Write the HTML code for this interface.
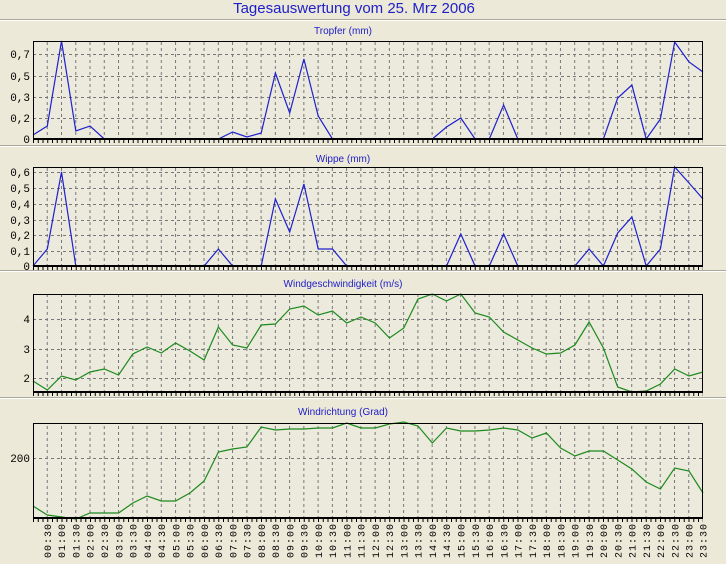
<!DOCTYPE html>
<html><head><meta charset="utf-8"><style>
html,body{margin:0;padding:0;background:#ece9d8;}
svg{display:block;}
.t{font-family:"Liberation Sans",sans-serif;fill:#2020c8;}
.y{font-family:"Liberation Mono",monospace;font-size:11px;fill:#000;}
.x{font-family:"Liberation Mono",monospace;font-size:10px;fill:#000;letter-spacing:1px;}
</style></head><body>
<svg width="726" height="564" viewBox="0 0 726 564" xmlns="http://www.w3.org/2000/svg">
<defs>
<pattern id="vp" patternUnits="userSpaceOnUse" x="32.5" y="0" width="14.2553" height="6">
<rect x="0" y="0" width="1" height="3" fill="#777"/>
</pattern>
</defs>
<rect width="726" height="564" fill="#ece9d8"/>
<text class="t" x="354" y="13" font-size="15" text-anchor="middle">Tagesauswertung vom 25. Mrz 2006</text>
<line x1="0" y1="19.5" x2="726" y2="19.5" stroke="#aca899"/><line x1="0" y1="20.5" x2="726" y2="20.5" stroke="#fff"/>
<line x1="0" y1="145.5" x2="726" y2="145.5" stroke="#aca899"/><line x1="0" y1="146.5" x2="726" y2="146.5" stroke="#fff"/>
<line x1="0" y1="270.5" x2="726" y2="270.5" stroke="#aca899"/><line x1="0" y1="271.5" x2="726" y2="271.5" stroke="#fff"/>
<line x1="0" y1="397.5" x2="726" y2="397.5" stroke="#aca899"/><line x1="0" y1="398.5" x2="726" y2="398.5" stroke="#fff"/>

<!-- Panel 1 -->
<text class="t" x="343" y="34" font-size="10" text-anchor="middle">Tropfer (mm)</text>
<rect x="33" y="41" width="670" height="98" fill="#ebeadc"/>
<rect x="34" y="41" width="668" height="98" fill="url(#vp)"/>
<path d="M33 54.5H703M33 76.5H703M33 97.5H703M33 118.5H703" stroke="#777" stroke-dasharray="3,3"/>
<path d="M33 141.5H703" stroke="#000" stroke-dasharray="1,3.75" stroke-width="3"/>
<polyline fill="none" stroke="#2020d0" stroke-width="1.2" points="33,135 47.3,126 61.5,41 75.8,131 90,126 104.3,139 118.6,139 132.8,139 147.1,139 161.3,139 175.6,139 189.9,139 204.1,139 218.4,139 232.6,132 246.9,137 261.2,133 275.4,73 289.7,113 303.9,59 318.2,116 332.5,139 346.7,139 432.3,139 446.5,127 460.8,118 475.1,139 489.3,139 503.6,105 517.8,139 603.4,139 617.7,98 631.9,85 646.2,139 660.4,119 674.7,42 689,62 703,72"/>
<rect x="33.5" y="41.5" width="669" height="97.5" fill="none" stroke="#000"/>
<line x1="33" y1="139" x2="703" y2="139" stroke="#000" stroke-width="2"/>
<g class="y" text-anchor="end">
<text x="30" y="58">0,7</text><text x="30" y="80">0,5</text><text x="30" y="101">0,3</text><text x="30" y="122">0,2</text><text x="30" y="143">0</text></g>

<!-- Panel 2 -->
<text class="t" x="343" y="162" font-size="10" text-anchor="middle">Wippe (mm)</text>
<rect x="33" y="167" width="670" height="99" fill="#ebeadc"/>
<rect x="34" y="167" width="668" height="99" fill="url(#vp)"/>
<path d="M33 172.5H703M33 188.5H703M33 204.5H703M33 220.5H703M33 235.5H703M33 251.5H703" stroke="#777" stroke-dasharray="3,3"/>
<path d="M33 268.5H703" stroke="#000" stroke-dasharray="1,3.75" stroke-width="3"/>
<polyline fill="none" stroke="#2020d0" stroke-width="1.2" points="33,266 47.3,249 61.5,172 75.8,266 90,266 189.9,266 204.1,266 218.4,249 232.6,266 261.2,266 275.4,199 289.7,232 303.9,184 318.2,249 332.5,249 346.7,266 446.5,266 460.8,234 475.1,266 489.3,266 503.6,234 517.8,266 574.9,266 589.1,249 603.4,266 617.7,233 631.9,217 646.2,266 660.4,249 674.7,167 689,183 703,199"/>
<rect x="33.5" y="167.5" width="669" height="98.5" fill="none" stroke="#000"/>
<line x1="33" y1="266" x2="703" y2="266" stroke="#000" stroke-width="2"/>
<g class="y" text-anchor="end">
<text x="30" y="176">0,6</text><text x="30" y="192">0,5</text><text x="30" y="208">0,4</text><text x="30" y="224">0,3</text><text x="30" y="239">0,2</text><text x="30" y="255">0,1</text><text x="30" y="270">0</text></g>

<!-- Panel 3 -->
<text class="t" x="343" y="287" font-size="10" text-anchor="middle">Windgeschwindigkeit (m/s)</text>
<rect x="33" y="294" width="670" height="98" fill="#ebeadc"/>
<rect x="34" y="294" width="668" height="98" fill="url(#vp)"/>
<path d="M33 319.5H703M33 349.5H703M33 378.5H703" stroke="#777" stroke-dasharray="3,3"/>
<path d="M33 394.5H703" stroke="#000" stroke-dasharray="1,3.75" stroke-width="3"/>
<polyline fill="none" stroke="#1e8a1e" stroke-width="1.2" points="33,381 47.3,390 61.5,376 75.8,380 90,372 104.3,369 118.6,375 132.8,354 147.1,347 161.3,353 175.6,343 189.9,351 204.1,360 218.4,327 232.6,345 246.9,348 261.2,325 275.4,324 289.7,309 303.9,306 318.2,315 332.5,311 346.7,323 361,317 375.2,323 389.5,338 403.8,328 418,299 432.3,294 446.5,301 460.8,294 475.1,313 489.3,317 503.6,332 517.8,340 532.1,348 546.4,354 560.6,353 574.9,345 589.1,322 603.4,348 617.7,387 631.9,392 646.2,391 660.4,384 674.7,369 689,376 703,372"/>
<rect x="33.5" y="294.5" width="669" height="97.5" fill="none" stroke="#000"/>
<line x1="33" y1="392" x2="703" y2="392" stroke="#000" stroke-width="2"/>
<g class="y" text-anchor="end">
<text x="30" y="323">4</text><text x="30" y="353">3</text><text x="30" y="382">2</text></g>

<!-- Panel 4 -->
<text class="t" x="343" y="415" font-size="10" text-anchor="middle">Windrichtung (Grad)</text>
<rect x="33" y="423" width="670" height="95" fill="#ebeadc"/>
<rect x="34" y="423" width="668" height="95" fill="url(#vp)"/>
<path d="M33 458.5H703" stroke="#777" stroke-dasharray="3,3"/>
<path d="M33 520.5H703" stroke="#000" stroke-dasharray="1,3.75" stroke-width="3"/>
<polyline fill="none" stroke="#1e8a1e" stroke-width="1.2" points="33,506 47.3,515 61.5,517 75.8,519 90,513 104.3,513 118.6,513 132.8,503 147.1,496 161.3,501 175.6,501 189.9,493 204.1,481 218.4,452 232.6,449 246.9,447 261.2,427 275.4,430 289.7,429 303.9,429 318.2,428 332.5,428 346.7,423 361,428 375.2,428 389.5,424 403.8,422 418,426 432.3,443 446.5,428 460.8,431 475.1,431 489.3,430 503.6,428 517.8,430 532.1,438 546.4,433 560.6,448 574.9,456 589.1,451 603.4,451 617.7,460 631.9,469 646.2,482 660.4,489 674.7,468 689,471 703,493"/>
<rect x="33.5" y="423.5" width="669" height="94.5" fill="none" stroke="#000"/>
<line x1="33" y1="518" x2="703" y2="518" stroke="#000" stroke-width="2"/>
<g class="y" text-anchor="end"><text x="30" y="462">200</text></g>

<g class="x" text-anchor="end">
<text transform="translate(51,523) rotate(-90)">00:30</text>
<text transform="translate(65.2,523) rotate(-90)">01:00</text>
<text transform="translate(79.5,523) rotate(-90)">01:30</text>
<text transform="translate(93.7,523) rotate(-90)">02:00</text>
<text transform="translate(108,523) rotate(-90)">02:30</text>
<text transform="translate(122.3,523) rotate(-90)">03:00</text>
<text transform="translate(136.5,523) rotate(-90)">03:30</text>
<text transform="translate(150.8,523) rotate(-90)">04:00</text>
<text transform="translate(165,523) rotate(-90)">04:30</text>
<text transform="translate(179.3,523) rotate(-90)">05:00</text>
<text transform="translate(193.6,523) rotate(-90)">05:30</text>
<text transform="translate(207.8,523) rotate(-90)">06:00</text>
<text transform="translate(222.1,523) rotate(-90)">06:30</text>
<text transform="translate(236.3,523) rotate(-90)">07:00</text>
<text transform="translate(250.6,523) rotate(-90)">07:30</text>
<text transform="translate(264.9,523) rotate(-90)">08:00</text>
<text transform="translate(279.1,523) rotate(-90)">08:30</text>
<text transform="translate(293.4,523) rotate(-90)">09:00</text>
<text transform="translate(307.6,523) rotate(-90)">09:30</text>
<text transform="translate(321.9,523) rotate(-90)">10:00</text>
<text transform="translate(336.2,523) rotate(-90)">10:30</text>
<text transform="translate(350.4,523) rotate(-90)">11:00</text>
<text transform="translate(364.7,523) rotate(-90)">11:30</text>
<text transform="translate(378.9,523) rotate(-90)">12:00</text>
<text transform="translate(393.2,523) rotate(-90)">12:30</text>
<text transform="translate(407.5,523) rotate(-90)">13:00</text>
<text transform="translate(421.7,523) rotate(-90)">13:30</text>
<text transform="translate(436,523) rotate(-90)">14:00</text>
<text transform="translate(450.2,523) rotate(-90)">14:30</text>
<text transform="translate(464.5,523) rotate(-90)">15:00</text>
<text transform="translate(478.8,523) rotate(-90)">15:30</text>
<text transform="translate(493,523) rotate(-90)">16:00</text>
<text transform="translate(507.3,523) rotate(-90)">16:30</text>
<text transform="translate(521.5,523) rotate(-90)">17:00</text>
<text transform="translate(535.8,523) rotate(-90)">17:30</text>
<text transform="translate(550.1,523) rotate(-90)">18:00</text>
<text transform="translate(564.3,523) rotate(-90)">18:30</text>
<text transform="translate(578.6,523) rotate(-90)">19:00</text>
<text transform="translate(592.8,523) rotate(-90)">19:30</text>
<text transform="translate(607.1,523) rotate(-90)">20:00</text>
<text transform="translate(621.4,523) rotate(-90)">20:30</text>
<text transform="translate(635.6,523) rotate(-90)">21:00</text>
<text transform="translate(649.9,523) rotate(-90)">21:30</text>
<text transform="translate(664.1,523) rotate(-90)">22:00</text>
<text transform="translate(678.4,523) rotate(-90)">22:30</text>
<text transform="translate(692.7,523) rotate(-90)">23:00</text>
<text transform="translate(706.7,523) rotate(-90)">23:30</text>
</g>
</svg>
</body></html>
